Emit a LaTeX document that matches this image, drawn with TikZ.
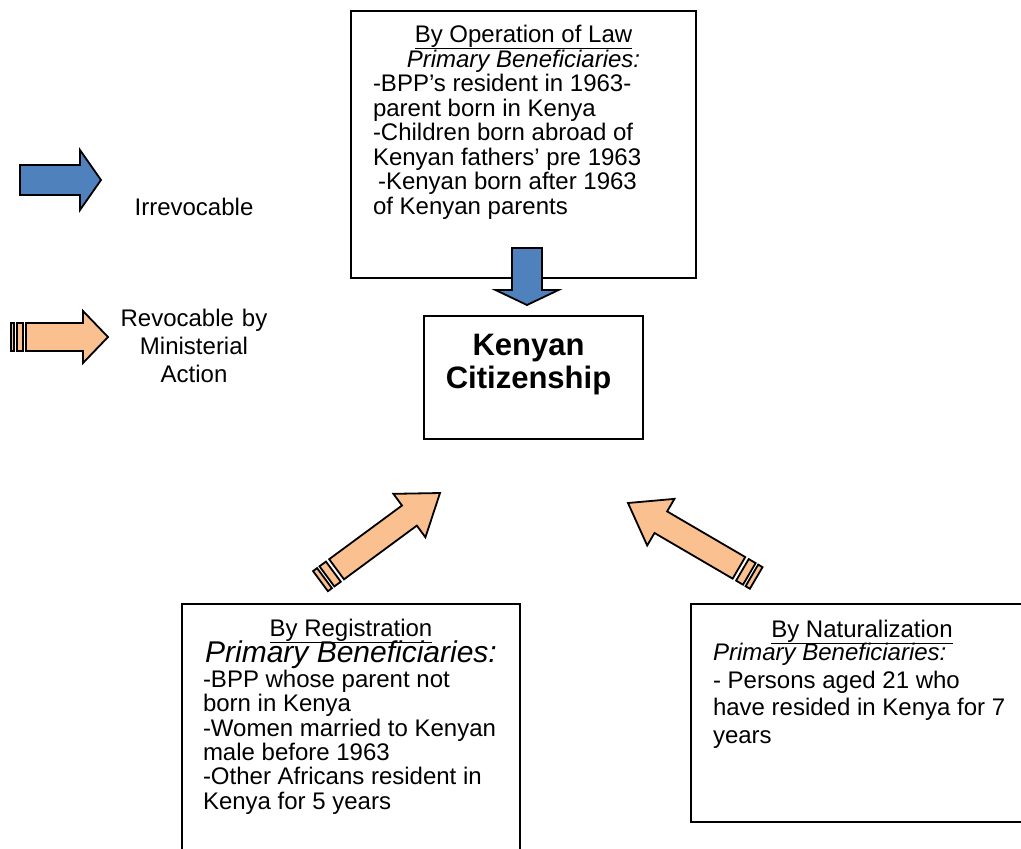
\documentclass[tikz,border=0pt]{standalone}
\usepackage{fontspec}
\setmainfont{Liberation Sans}

\definecolor{lawblue}{HTML}{4F81BD}
\definecolor{regorange}{HTML}{FAC090}

% block arrow: fill, tip, angle, length, body half width, head half width, head length
\newcommand{\blockarrow}[7]{%
  \draw [fill=#1, line width=0.9pt, shift={#2}, rotate=#3]
    (0,0) -- (-#7,#6) -- (-#7,#5) -- (-#4,#5) -- (-#4,-#5)
    -- (-#7,-#5) -- (-#7,-#6) -- cycle;}
% bands behind a revocable arrow: tip, angle, length, half width, band offsets
\newcommand{\tailbands}[5]{%
  \foreach \a/\b in {#5}
    \draw [fill=regorange, line width=0.9pt, shift={#1}, rotate=#2]
      (-#3-\a,-#4) rectangle (-#3-\b,#4);}
% text set at fixed line distances
\newcommand{\fixedlines}{\parskip=0pt\lineskiplimit=-\maxdimen}
% underlined heading that takes no extra depth
\newcommand{\headline}[1]{\centerline{\setbox0=\hbox{#1}%
  \rlap{\rule[-3pt]{\wd0}{0.6pt}}\box0}}

\tikzset{
  panel/.style={draw, line width=1pt, inner ysep=0pt, anchor=north west},
  legendtext/.style={font=\fontsize{12}{14}\selectfont, align=center, anchor=base},
}

\begin{document}
\begin{tikzpicture}[x=0.5pt, y=-0.5pt]
  % the visible area of the figure
  \useasboundingbox (0,0) rectangle (1021,848);
  \clip (0,0) rectangle (1021,848);

  % the boxes
  \node [panel, inner xsep=11pt] (law) at (350,10) {\parbox[c][133.5pt][t]{150.5pt}{%
    \fontsize{12}{12.25}\selectfont\fixedlines\vspace*{7.2pt}%
    \headline{By Operation of Law}%
    \centerline{\itshape Primary Beneficiaries:}%
    \raggedright
    -BPP’s resident in 1963-\\
    parent born in Kenya\\
    -Children born abroad of\\
    Kenyan fathers’ pre 1963\\
    \hspace*{2.5pt}-Kenyan born after 1963\\
    of Kenyan parents}};

  \node [panel, inner xsep=0pt] (kenya) at (423,315) {\parbox[c][61.5pt][t]{104.5pt}{%
    \centering\fontsize{15.5}{16.5}\selectfont\bfseries\vspace*{8.9pt}%
    Kenyan\\Citizenship}\hspace*{5pt}};

  \node [panel, inner xsep=10.5pt] (reg) at (181,603) {\parbox[c][138.5pt][t]{148pt}{%
    \fontsize{12}{12.2}\selectfont\fixedlines\vspace*{7.7pt}%
    \headline{By Registration}\vspace{0.8pt}%
    \centerline{\fontsize{15}{13.5}\selectfont\itshape Primary Beneficiaries:}%
    \raggedright
    -BPP whose parent not\\
    born in Kenya\\
    -Women married to Kenyan\\
    male before 1963\\
    -Other Africans resident in\\
    Kenya for 5 years}};

  \node [panel, inner xsep=11pt] (nat) at (690,603) {\parbox[c][109pt][t]{149pt}{%
    \fontsize{12}{13.75}\selectfont\fixedlines\vspace*{8.2pt}%
    \headline{By Naturalization}\vspace{-2.25pt}%
    \raggedright
    \textit{Primary Beneficiaries:}\\
    - Persons aged 21 who\\
    have resided in Kenya for 7\\
    years}};

  % the legend
  \blockarrow{lawblue}{(101,180)}{0}{81}{15}{30}{21}
  \node [legendtext] (irrev) at (194,215) {Irrevocable};
  \blockarrow{regorange}{(108,337)}{0}{82}{14}{26}{25}
  \tailbands{(108,337)}{0}{82}{14}{3/9,12/15}
  \node [legendtext, text width=80pt] (revoc) at (194,326)
    {Revocable by\\Ministerial\\Action};

  % the routes to citizenship
  \blockarrow{lawblue}{(527,305)}{-90}{57}{15}{31.5}{15}
  \blockarrow{regorange}{(440,493)}{36.4}{128.5}{12.5}{27}{38}
  \tailbands{(440,493)}{36.4}{128.5}{12.5}{4/12,15/20}
  \blockarrow{regorange}{(628,503)}{149.7}{128.5}{12.5}{27}{38}
  \tailbands{(628,503)}{149.7}{128.5}{12.5}{4/12,15/20}
\end{tikzpicture}
\end{document}
